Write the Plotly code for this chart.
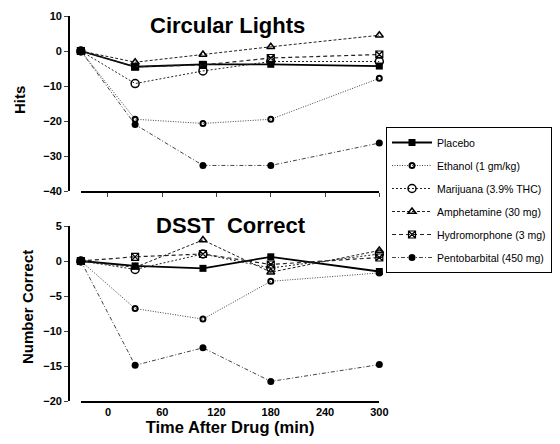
import plotly.graph_objects as go

# time after drug (min); -30 is the pre-drug baseline
times = [-30, 30, 105, 180, 300]

drugs = ["Placebo", "Ethanol (1 gm/kg)", "Marijuana (3.9% THC)",
         "Amphetamine (30 mg)", "Hydromorphone (3 mg)", "Pentobarbital (450 mg)"]

# Circular Lights - hits (change from baseline)
hits_placebo = [0, -4.5, -3.8, -3.8, -4.3]
hits_ethanol = [0, -19.5, -20.7, -19.5, -7.8]
hits_marijuana = [0, -9.3, -5.7, -3.0, -3.0]
hits_amphetamine = [0, -3.2, -1.0, 1.2, 4.5]
hits_hydromorphone = [0, -4.5, -4.0, -2.0, -1.0]
hits_pentobarbital = [0, -21.0, -32.7, -32.7, -26.3]

# DSST - number correct (change from baseline)
dsst_placebo = [0, -0.7, -1.05, 0.6, -1.5]
dsst_ethanol = [0, -6.8, -8.3, -2.9, -1.7]
dsst_marijuana = [0, -1.2, 1.0, -1.0, 1.0]
dsst_amphetamine = [0, -0.9, 3.0, -1.6, 1.5]
dsst_hydromorphone = [0, 0.6, 1.0, -0.5, 0.5]
dsst_pentobarbital = [0, -14.9, -12.4, -17.2, -14.8]

hits = [hits_placebo, hits_ethanol, hits_marijuana,
        hits_amphetamine, hits_hydromorphone, hits_pentobarbital]
dsst = [dsst_placebo, dsst_ethanol, dsst_marijuana,
        dsst_amphetamine, dsst_hydromorphone, dsst_pentobarbital]

styles = [
    dict(line=dict(color="black", width=1.8, dash="solid"),
         marker=dict(symbol="square", size=7, color="black")),
    dict(line=dict(color="#444", width=1, dash="1px,1.5px"),
         marker=dict(symbol="circle-open", size=5, color="black", line=dict(width=2))),
    dict(line=dict(color="#222", width=1, dash="2px,2px"),
         marker=dict(symbol="circle-open", size=8, color="black", line=dict(width=1.5))),
    dict(line=dict(color="#222", width=1, dash="3px,2px"),
         marker=dict(symbol="triangle-up-open", size=7, color="black", line=dict(width=1.5))),
    dict(line=dict(color="#222", width=1.2, dash="4px,3px"),
         marker=dict(symbol="square-x-open", size=7, color="black", line=dict(width=1.2))),
    dict(line=dict(color="#444", width=1, dash="4px,2px,1px,2px"),
         marker=dict(symbol="circle", size=7, color="black")),
]

# page has an 8px body margin, so the figure is a bit smaller than the window
OFF = 8
W, H = 560 - 2 * OFF, 444 - 2 * OFF
FONT = "Liberation Sans, Arial, sans-serif"


def px(x):
    return (x - OFF) / W


def py(y):
    return 1 - (y - OFF) / H


fig = go.Figure()
for i, name in enumerate(drugs):
    fig.add_trace(go.Scatter(x=times, y=hits[i], name=name, mode="lines+markers",
                             legendgroup=name, showlegend=True, cliponaxis=False,
                             xaxis="x", yaxis="y", **styles[i]))
    fig.add_trace(go.Scatter(x=times, y=dsst[i], name=name, mode="lines+markers",
                             legendgroup=name, showlegend=False, cliponaxis=False,
                             xaxis="x2", yaxis="y2", **styles[i]))

xdom = [px(81), px(380)]
ax_common = dict(showgrid=False, zeroline=False, showline=True, linecolor="black",
                 linewidth=1.5, automargin=False)
tick_font = dict(size=11, family=FONT, weight="bold")

fig.update_layout(
    width=W, height=H,
    margin=dict(l=0, r=0, t=0, b=0),
    plot_bgcolor="white", paper_bgcolor="white",
    font=dict(family=FONT, color="black"),
    xaxis=dict(domain=xdom, range=[-30, 300], anchor="y", tickvals=[0, 60, 120, 180, 240, 300],
               showticklabels=False, ticks="outside", ticklen=4, **ax_common),
    yaxis=dict(domain=[py(191), py(16)], range=[-40, 10], anchor="free",
               position=px(69), tickvals=[10, 0, -10, -20, -30, -40], ticks="outside",
               ticklen=4, tickfont=tick_font, **ax_common),
    xaxis2=dict(domain=xdom, range=[-30, 300], anchor="y2", tickvals=[0, 60, 120, 180, 240, 300],
                ticks="", tickfont=tick_font,
                title=dict(text="<b>Time After Drug (min)</b>", font=dict(size=16.5), standoff=8),
                **ax_common),
    yaxis2=dict(domain=[py(401), py(226)], range=[-20, 5], anchor="free",
                position=px(69), tickvals=[5, 0, -5, -10, -15, -20], ticks="outside",
                ticklen=4, tickfont=tick_font, **ax_common),
    legend=dict(x=px(387), y=py(127), xanchor="left", yanchor="top",
                bgcolor="white", bordercolor="black", borderwidth=1, itemwidth=40,
                font=dict(size=10.5, family=FONT), tracegroupgap=4, traceorder="grouped"),
)

ann = dict(xref="paper", yref="paper", showarrow=False, xanchor="center", yanchor="middle")
fig.add_annotation(text="<b>Circular Lights</b>", x=px(228), y=py(25), font=dict(size=22), **ann)
fig.add_annotation(text="<b>DSST  Correct</b>", x=px(231), y=py(225), font=dict(size=22), **ann)
fig.add_annotation(text="<b>Hits</b>", x=px(19), y=py(100), textangle=-90, font=dict(size=15), **ann)
fig.add_annotation(text="<b>Number Correct</b>", x=px(27), y=py(307), textangle=-90,
                   font=dict(size=15), **ann)

fig.write_html("out.html")
